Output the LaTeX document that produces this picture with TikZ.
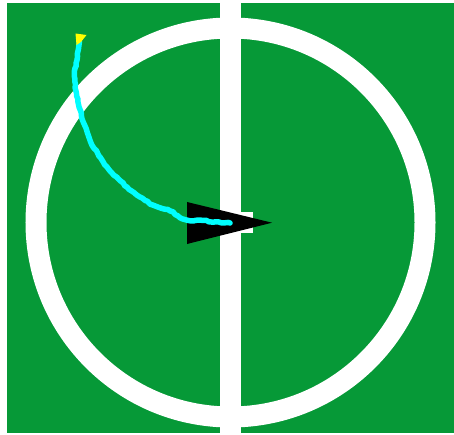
\documentclass[tikz,border=0pt]{standalone}
\usepackage{tikz}
\usetikzlibrary{
    calc,
    decorations.pathmorphing
}
\definecolor{pitch}{RGB}{6,153,55}
\definecolor{trail}{RGB}{0,255,255}
\definecolor{startmark}{RGB}{255,255,0}

\begin{document}
\begin{tikzpicture}[x=1pt,y=-1pt]

\useasboundingbox (0,0) rectangle (454,435);

% Field
\fill[pitch] (7,3) rectangle (454,433);

% Centre circle
\draw[white, line width=21pt] (230.5,222.5) circle[radius=194.5pt];

% Halfway line
\fill[white] (220,3) rectangle (241,433);

% Robot base
\fill[white] (230,212) rectangle (253,233);

% Robot heading
\fill[black] (187,202) -- (272,222.7) -- (187,244) -- cycle;

% Driven path
\draw[trail, line width=5.5pt, line cap=round, line join=round,
      decorate, decoration={random steps, segment length=3pt, amplitude=0.6pt}]
    plot[smooth] coordinates {(79,44) (77,60) (74.5,76) (76.5,93) (81.5,116)
      (90,140) (100,157) (112,173) (127,187) (140,197) (153,205) (170,211)
      (180,217.5) (190,220.5) (203,220.5) (213,222) (230,223)};

% Start mark
\fill[startmark] (75.5,33.5) -- (86.5,35) -- (81,42) -- (76.5,45) -- cycle;

\end{tikzpicture}
\end{document}
